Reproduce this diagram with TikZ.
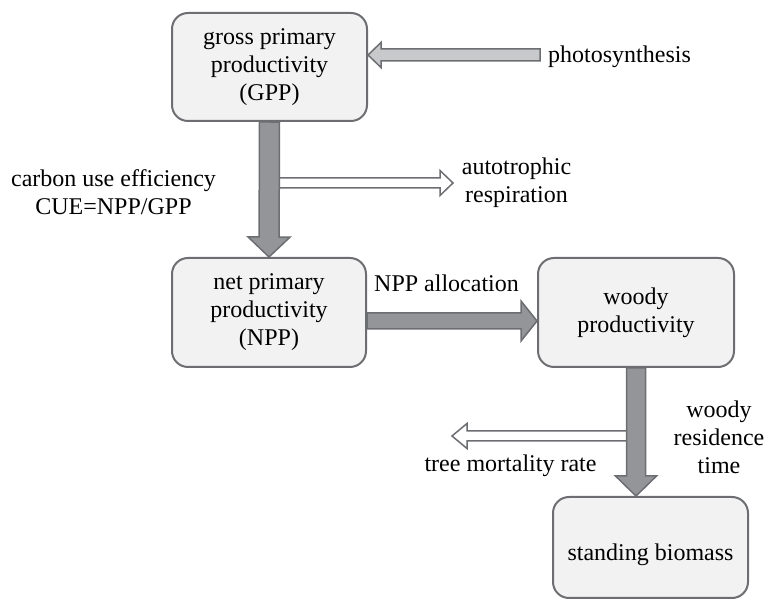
\documentclass[tikz,border=0pt]{standalone}
\usepackage{fontspec}
\setmainfont{Liberation Serif}
\usetikzlibrary{calc}
\definecolor{boxline}{HTML}{6D6E71}
\definecolor{boxfill}{HTML}{F1F2F1}
\definecolor{flowdark}{HTML}{939598}
\definecolor{flowlight}{HTML}{C8C9CB}
\newcommand{\blockarrow}[6][]{%
  \path ($(#3)!#6!(#2)$) coordinate (bahead);
  \draw[#1] ($(#2)!#4!90:(#3)$) -- ($(bahead)!#4!-90:(#2)$) -- ($(bahead)!#5!-90:(#2)$) -- (#3)
    -- ($(bahead)!#5!90:(#2)$) -- ($(bahead)!#4!90:(#2)$) -- ($(#2)!#4!-90:(#3)$) -- cycle;
}
\begin{document}
\begin{tikzpicture}[x=1pt,y=1pt,font=\fontsize{24}{28}\selectfont,
  box/.style={draw=boxline,fill=boxfill,line width=2pt,rounded corners=16pt,align=center,inner sep=0pt},
  darkflow/.style={draw=boxline,fill=flowdark,line width=1.5pt},
  lightflow/.style={draw=boxline,fill=flowlight,line width=1.5pt},
  openflow/.style={draw=boxline,fill=white,line width=1.5pt},
  lbl/.style={align=center,inner sep=0pt}]
\useasboundingbox (0,0) rectangle (764,600);
\node[box,minimum width=195pt,minimum height=108pt] (gpp) at (269.5,533) {gross primary\\productivity\\(GPP)};
\node[box,minimum width=194pt,minimum height=109pt] (npp) at (269,287.5) {net primary\\productivity\\(NPP)};
\node[box,minimum width=196pt,minimum height=109pt] (woody) at (636,287.5) {woody\\productivity};
\node[box,minimum width=195pt,minimum height=101pt,text height=31.4pt] (bio) at (650.5,52.5) {standing biomass};
\node[lbl,anchor=west] (photo) at (548,543) {photosynthesis};
\node[lbl] (cue) at (113.5,408) {carbon use efficiency\\CUE=NPP/GPP};
\node[lbl] (resp) at (516.5,417.5) {autotrophic\\respiration};
\node[lbl] (alloc) at (446.5,317) {NPP allocation};
\node[lbl] (wrt) at (719,163) {woody\\residence\\time};
\node[lbl] (mort) at (510.5,134) {tree mortality rate};
\coordinate (ph) at (540,545);
\coordinate (gppin) at (gpp.east |- ph);
\coordinate (au) at (275,417);
\coordinate (auend) at (453,417);
\coordinate (nppout) at ($(npp.east)+(0,-8.5)$);
\coordinate (woodyin) at ($(woody.west)+(0,-8.5)$);
\coordinate (biotop) at (woody.south |- bio.north);
\coordinate (mo) at (632,164);
\coordinate (moend) at (452,164);
\blockarrow[lightflow]{ph}{gppin}{6pt}{12.5pt}{13pt}
\blockarrow[openflow]{au}{auend}{5pt}{12.5pt}{13pt}
\blockarrow[darkflow]{gpp.south}{npp.north}{10pt}{21pt}{20pt}
\blockarrow[darkflow]{nppout}{woodyin}{8pt}{20pt}{16pt}
\blockarrow[openflow]{mo}{moend}{5pt}{12.5pt}{15pt}
\blockarrow[darkflow]{woody.south}{biotop}{9.5pt}{20.5pt}{20pt}
\end{tikzpicture}
\end{document}
